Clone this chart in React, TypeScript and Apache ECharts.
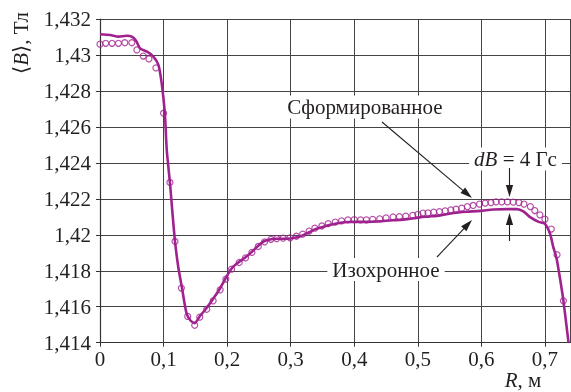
import React, { useEffect, useRef } from "react";
import * as echarts from "echarts";

// Сформированное (circles)
const formedR = [
  0, 0.009, 0.019, 0.029, 0.039, 0.05, 0.058, 0.068, 0.077, 0.088,
  0.1, 0.11, 0.118, 0.128, 0.138, 0.149, 0.157, 0.168, 0.178, 0.189,
  0.198, 0.207, 0.219, 0.229, 0.239, 0.249, 0.259, 0.269, 0.278, 0.288,
  0.299, 0.309, 0.319, 0.329, 0.338, 0.349, 0.359, 0.37, 0.38, 0.39,
  0.4, 0.41, 0.419, 0.429, 0.44, 0.45, 0.461, 0.471, 0.481, 0.492,
  0.5, 0.508, 0.516, 0.525, 0.534, 0.543, 0.552, 0.56, 0.569, 0.578,
  0.587, 0.597, 0.606, 0.615, 0.623, 0.632, 0.641, 0.65, 0.659, 0.667,
  0.677, 0.684, 0.692, 0.7, 0.71, 0.719, 0.729,
];
const formedB = [
  1.4306, 1.43065, 1.43065, 1.43065, 1.43068, 1.43068, 1.43028, 1.42994, 1.42978, 1.42928,
  1.42676, 1.42291, 1.41963, 1.41704, 1.41546, 1.41497, 1.41542, 1.41586, 1.41633, 1.41694,
  1.41754, 1.41809, 1.41846, 1.41872, 1.41902, 1.41935, 1.41961, 1.41975, 1.41979, 1.41981,
  1.41983, 1.41992, 1.42004, 1.42021, 1.42037, 1.42049, 1.42062, 1.42071, 1.42078, 1.42083,
  1.42084, 1.42083, 1.42083, 1.42086, 1.42089, 1.42094, 1.42099, 1.42101, 1.42104, 1.42108,
  1.42114, 1.42121, 1.42122, 1.42126, 1.42129, 1.42133, 1.42139, 1.42143, 1.42148, 1.42157,
  1.42163, 1.42171, 1.42176, 1.42179, 1.42183, 1.42183, 1.42183, 1.42182, 1.42179, 1.42171,
  1.42157, 1.42135, 1.42111, 1.42087, 1.42032, 1.41889, 1.41633,
];

// Изохронное (solid line)
const isoR = [
  0, 0.016, 0.029, 0.042, 0.05, 0.057, 0.063, 0.074, 0.084, 0.092,
  0.097, 0.102, 0.105, 0.11, 0.114, 0.118, 0.123, 0.129, 0.136, 0.142,
  0.149, 0.157, 0.168, 0.178, 0.189, 0.198, 0.208, 0.219, 0.23, 0.239,
  0.249, 0.258, 0.269, 0.278, 0.288, 0.299, 0.31, 0.319, 0.329, 0.338,
  0.349, 0.359, 0.37, 0.381, 0.39, 0.4, 0.411, 0.42, 0.429, 0.441,
  0.45, 0.461, 0.472, 0.483, 0.494, 0.503, 0.519, 0.535, 0.556, 0.576,
  0.598, 0.619, 0.64, 0.656, 0.666, 0.676, 0.69, 0.7, 0.708, 0.713,
  0.718, 0.724, 0.729, 0.734, 0.737,
];
const isoB = [
  1.43115, 1.43111, 1.43102, 1.43107, 1.43102, 1.43078, 1.43037, 1.43018, 1.42991, 1.42944,
  1.42843, 1.42676, 1.42472, 1.42291, 1.42121, 1.41963, 1.41824, 1.41704, 1.41565, 1.41525,
  1.41509, 1.41547, 1.41594, 1.41644, 1.41703, 1.41761, 1.41817, 1.4185, 1.41878, 1.41906,
  1.41939, 1.41964, 1.41975, 1.41978, 1.41978, 1.41979, 1.41986, 1.41997, 1.42014, 1.4203,
  1.42042, 1.42053, 1.42061, 1.42068, 1.42071, 1.42072, 1.42072, 1.42072, 1.42073, 1.42075,
  1.42078, 1.42081, 1.42083, 1.42087, 1.42092, 1.42097, 1.42102, 1.42108, 1.42121, 1.42128,
  1.42133, 1.42141, 1.42143, 1.42143, 1.4213, 1.421, 1.42072, 1.42061, 1.42006, 1.41933,
  1.41872, 1.4175, 1.41633, 1.41491, 1.414,
];

const X_MIN = 0;
const X_MAX = 0.74;
const X_STEP = 0.1;
const Y_MIN = 1.414;
const Y_MAX = 1.432;
const Y_STEP = 0.002;

const FONT = "'Liberation Serif', 'DejaVu Serif', serif";
const FS = 21;
const CURVE = "#a0228f";
const INK = "#231f20";
const GRIDC = "#444";

function arrow(x1: number, y1: number, x2: number, y2: number, head = 12, half = 3.6) {
  const dx = x2 - x1;
  const dy = y2 - y1;
  const L = Math.hypot(dx, dy);
  const ux = dx / L;
  const uy = dy / L;
  const bx = x2 - ux * head;
  const by = y2 - uy * head;
  return [
    { type: "line", z: 100, shape: { x1, y1, x2: bx + ux * 2, y2: by + uy * 2 }, style: { stroke: INK, lineWidth: 1.1 } },
    {
      type: "polygon",
      z: 100,
      shape: { points: [[x2, y2], [bx - uy * half, by + ux * half], [bx + uy * half, by - ux * half]] },
      style: { fill: INK },
    },
  ];
}

function label(text: string, x: number, y: number, rich?: any, bg = true) {
  return {
    type: "text",
    z: 99,
    x,
    y,
    style: {
      text,
      fontFamily: FONT,
      fontSize: FS,
      fill: INK,
      align: "center",
      verticalAlign: "middle",
      backgroundColor: bg ? "#fff" : undefined,
      padding: bg ? [1, 5] : 0,
      rich,
    },
  };
}

export default function App() {
  const ref = useRef<HTMLDivElement>(null);
  useEffect(() => {
    const chart = echarts.init(ref.current!, null, { renderer: "svg" });
    const fmtY = (v: number) => Number(v.toFixed(3)).toString().replace(".", ",");
    const fmtX = (v: number) => {
      const k = Math.round(v / X_STEP);
      if (Math.abs(v / X_STEP - k) > 1e-6) return "";
      return Number((k * X_STEP).toFixed(1)).toString().replace(".", ",");
    };
    const italic = { i: { fontStyle: "italic", fontFamily: FONT, fontSize: FS, fill: INK } };
    chart.setOption({
      animation: false,
      textStyle: { fontFamily: FONT },
      grid: { left: 100, right: 0.6, top: 19, bottom: 49.3, containLabel: false },
      xAxis: {
        type: "value",
        min: X_MIN,
        max: X_MAX,
        interval: X_STEP,
        axisLine: { lineStyle: { color: "#333", width: 1.2 } },
        axisTick: { show: true, length: 4, inside: false, lineStyle: { color: "#333" } },
        axisLabel: { formatter: fmtX, fontFamily: FONT, fontSize: FS, color: INK, margin: 6, showMaxLabel: false },
        splitLine: { show: true, lineStyle: { color: GRIDC, width: 1 } },
      },
      yAxis: {
        type: "value",
        min: Y_MIN,
        max: Y_MAX,
        interval: Y_STEP,
        axisLine: { show: true, lineStyle: { color: "#333", width: 1.2 } },
        axisTick: { show: true, length: 4, inside: false, lineStyle: { color: "#333" } },
        axisLabel: { formatter: fmtY, fontFamily: FONT, fontSize: FS, color: INK, margin: 9 },
        splitLine: { show: true, lineStyle: { color: GRIDC, width: 1 } },
      },
      series: [
        {
          name: "Изохронное",
          type: "line",
          data: isoR.map((r, i) => [r, isoB[i]]),
          symbol: "none",
          smooth: 0.25,
          lineStyle: { color: CURVE, width: 2.6 },
          z: 2,
        },
        {
          name: "Сформированное",
          type: "scatter",
          data: formedR.map((r, i) => [r, formedB[i]]),
          symbol: "circle",
          symbolSize: 6,
          itemStyle: { color: "rgba(255,255,255,0)", borderColor: CURVE, borderWidth: 1.2 },
          z: 3,
        },
      ],
      graphic: [
        {
          type: "text",
          x: 21,
          y: 43,
          rotation: Math.PI / 2,
          style: {
            text: "⟨{i|B}⟩, Тл",
            fontFamily: FONT,
            fontSize: FS,
            fill: INK,
            align: "center",
            verticalAlign: "middle",
            rich: italic,
          },
        },
        label("{i|R}, м", 523, 379.5, italic, false),
        label("Сформированное", 365, 107),
        label("{i|dB} = 4 Гс", 515.5, 159, italic),
        label("Изохронное", 386, 269.5),
        ...arrow(382, 122, 472, 198),
        ...arrow(437, 257, 472, 220),
        ...arrow(509.5, 168, 509.5, 197),
        ...arrow(509.5, 241, 509.5, 213),
      ],
    });
    return () => chart.dispose();
  }, []);
  return <div ref={ref} style={{ position: "fixed", left: 0, top: 0, width: 571, height: 392 }} />;
}
